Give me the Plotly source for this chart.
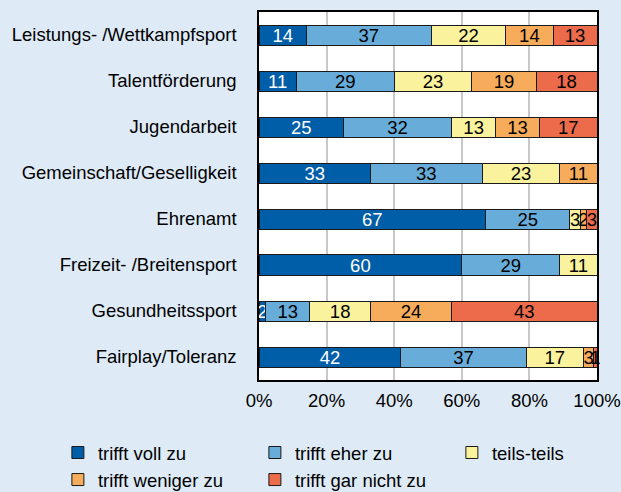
import plotly.graph_objects as go

categories = ["Leistungs- /Wettkampfsport", "Talentförderung", "Jugendarbeit",
              "Gemeinschaft/Geselligkeit", "Ehrenamt", "Freizeit- /Breitensport",
              "Gesundheitssport", "Fairplay/Toleranz"]
series_names = ["trifft voll zu", "trifft eher zu", "teils-teils",
                "trifft weniger zu", "trifft gar nicht zu"]
voll = [14, 11, 25, 33, 67, 60, 2, 42]
eher = [37, 29, 32, 33, 25, 29, 13, 37]
teils = [22, 23, 13, 23, 3, 11, 18, 17]
weniger = [14, 19, 13, 11, 2, 0, 24, 3]
garnicht = [13, 18, 17, 0, 3, 0, 43, 1]
tick_vals = [0, 20, 40, 60, 80, 100]
tick_text = ["0%", "20%", "40%", "60%", "80%", "100%"]

colors = ["#005DA8", "#68ACDA", "#FAF29C", "#F6AC5A", "#EB6B4B"]
text_colors = ["white", "black", "black", "black", "black"]
all_series = [voll, eher, teils, weniger, garnicht]

FS = 18.5
FONT = "Liberation Sans, Arial, sans-serif"

fig = go.Figure()
for name, vals, col, tcol in zip(series_names, all_series, colors, text_colors):
    fig.add_trace(go.Bar(
        y=categories, x=vals, name=name, orientation="h",
        marker=dict(color=col, line=dict(color="#1a1a1a", width=1)),
        text=[str(v) if v > 0 else "" for v in vals],
        textposition="inside", insidetextanchor="middle", textangle=0,
        textfont=dict(color=tcol, size=FS, family=FONT),
        width=0.435, cliponaxis=False,
    ))

fig.update_layout(
    barmode="stack",
    width=621, height=492,
    margin=dict(l=259, r=24, t=12, b=112, autoexpand=False),
    paper_bgcolor="#DEEBF7",
    plot_bgcolor="white",
    font=dict(family=FONT, size=FS, color="black"),
    uniformtext=dict(minsize=FS, mode="show"),
    showlegend=True,
    legend=dict(orientation="h", xref="paper", x=-0.595, yref="paper",
                y=-0.1467, yanchor="top", xanchor="left",
                entrywidth=152, entrywidthmode="pixels",
                font=dict(size=FS, family=FONT), traceorder="normal", itemwidth=30,
                bgcolor="rgba(0,0,0,0)", tracegroupgap=0),
)
fig.update_xaxes(range=[0, 100], tickvals=tick_vals, ticktext=tick_text,
                 showgrid=True, gridcolor="#C8C8C8", gridwidth=1.5,
                 showline=True, linecolor="black", linewidth=1.5, mirror=True,
                 zeroline=False, ticks="", ticklen=0, ticklabelstandoff=3,
                 tickfont=dict(size=FS), automargin=False)
fig.update_yaxes(autorange="reversed", showline=True, linecolor="black",
                 linewidth=1.5, mirror=True, ticks="", ticklen=0,
                 ticklabelstandoff=17, tickfont=dict(size=FS), showgrid=False,
                 automargin=False)

fig.write_html("out.html",
               config={"displayModeBar": False},
               post_script="document.body.style.margin='0px';"
                           "document.body.style.background='#DEEBF7';")
